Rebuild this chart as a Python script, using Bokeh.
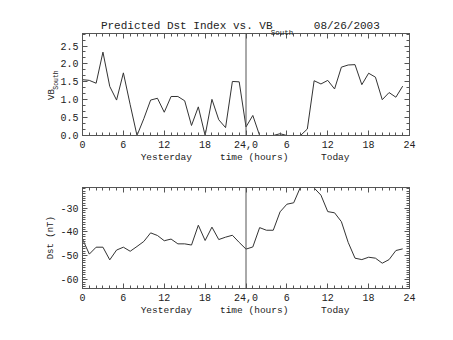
import math
from bokeh.plotting import figure
from bokeh.models import (Range1d, SingleIntervalTicker, FixedTicker, LinearAxis, Span,
                          PrintfTickFormatter, CustomJSTickFormatter)
from bokeh.layouts import column
from bokeh.embed import file_html
from bokeh.resources import INLINE

# ---------------- data ----------------
hours = list(range(48))
vb_south = [1.56, 1.54, 1.46, 2.33, 1.37, 0.99, 1.75, 0.86, 0.0, 0.47, 0.99, 1.04,
            0.65, 1.09, 1.09, 0.97, 0.28, 0.80, 0.0, 1.01, 0.44, 0.22, 1.51, 1.50,
            0.24, 0.56, 0.0, 0.0, 0.0, 0.05, 0.0, 0.0, 0.0, 0.18, 1.53, 1.44,
            1.54, 1.30, 1.91, 1.97, 1.98, 1.42, 1.74, 1.63, 1.00, 1.20, 1.07, 1.38]
dst = [-43.0, -49.3, -46.4, -46.4, -51.7, -47.6, -46.4, -48.1, -46.1, -44.0, -40.4, -41.5,
       -43.7, -43.0, -45.0, -45.0, -45.5, -37.2, -43.6, -38.0, -43.2, -42.2, -41.4, -44.4,
       -47.2, -46.3, -38.2, -39.3, -39.3, -31.6, -28.4, -27.8, -21.2, -19.0, -21.6, -24.6,
       -31.5, -32.0, -35.7, -44.4, -51.0, -51.6, -50.6, -51.0, -53.1, -51.6, -47.8, -47.1]
x_tick_labels = {0: "0", 6: "6", 12: "12", 18: "18", 24: "24,0",
                 30: "6", 36: "12", 42: "18", 48: "24"}
day_break = 24
title_main = ["Predicted Dst Index vs. VB", "08/26/2003"]
title_sub = ["South"]
ylabel_top_main = ["VB"]
ylabel_top_sub = ["South"]
ylabel_bottom = ["Dst (nT)"]
xlabels = ["Yesterday", "time (hours)", "Today"]

FONT = "Liberation Mono"
TXT = "#222222"
AX = "#555555"
LN = "#333333"


def style_axis(ax, labels=True, size="10px", standoff=5):
    ax.axis_line_color = AX
    ax.major_tick_line_color = AX
    ax.minor_tick_line_color = AX
    ax.major_tick_in = 5
    ax.major_tick_out = 0
    ax.minor_tick_in = 3
    ax.minor_tick_out = 0
    ax.major_label_text_font = FONT
    ax.major_label_text_font_size = size
    ax.major_label_text_color = TXT
    ax.major_label_standoff = standoff
    if not labels:
        ax.formatter = CustomJSTickFormatter(code="return ''")
        ax.major_label_text_font_size = "1px"
        ax.major_label_standoff = 0


def text_axis(p, loc, ticks, names, size, standoff, angle=None):
    ax = LinearAxis(ticker=FixedTicker(ticks=ticks),
                    formatter=CustomJSTickFormatter(args=dict(names=names),
                                                    code="return names[index]"))
    ax.axis_line_color = None
    ax.major_tick_line_color = None
    ax.minor_tick_line_color = None
    ax.major_tick_in = 0
    ax.major_tick_out = 0
    ax.major_label_text_font = FONT
    ax.major_label_text_font_size = size
    ax.major_label_text_color = TXT
    ax.major_label_standoff = standoff
    if angle is not None:
        ax.major_label_orientation = angle
    p.add_layout(ax, loc)
    return ax


def make_fig(height, btop, bbot, y0, y1, yint, yminor, yfmt):
    p = figure(width=453, height=height, x_range=Range1d(0, 48), y_range=Range1d(y0, y1),
               output_backend="svg", toolbar_location=None,
               x_axis_location=None, y_axis_location=None,
               min_border_left=82, min_border_right=44,
               min_border_top=btop, min_border_bottom=bbot)
    p.grid.visible = False
    p.outline_line_color = AX
    p.background_fill_color = "white"
    p.border_fill_color = "white"
    for loc in ["below", "above"]:
        ax = LinearAxis(ticker=SingleIntervalTicker(interval=6, num_minor_ticks=6))
        style_axis(ax, labels=(loc == "below"), standoff=5)
        if loc == "below":
            ax.major_label_overrides = x_tick_labels
        p.add_layout(ax, loc)
    for loc in ["left", "right"]:
        ax = LinearAxis(ticker=SingleIntervalTicker(interval=yint, num_minor_ticks=yminor))
        style_axis(ax, labels=(loc == "left"), standoff=4)
        if loc == "left":
            ax.formatter = PrintfTickFormatter(format=yfmt)
        p.add_layout(ax, loc)
    p.add_layout(Span(location=day_break, dimension="height", line_color=AX, line_width=1))
    text_axis(p, "below", [12.3, 25.2, 37.1], xlabels, "9.5px", 1)
    return p


p1 = make_fig(165, 33, 30, 0.0, 2.85, 0.5, 3, "%.1f")
p1.line(hours, vb_south, line_color=LN, line_width=1)
text_axis(p1, "above", [29.3], title_sub, "7.5px", -3)
text_axis(p1, "above", [15.3, 38.8], title_main, "11px", -6)
text_axis(p1, "left", [1.824], ylabel_top_sub, "6.5px", 1, angle=math.pi / 2)
text_axis(p1, "left", [1.295], ylabel_top_main, "9px", -6, angle=math.pi / 2)

p2 = make_fig(175, 22, 52, -63.7, -21.4, 10, 10, "%d")
p2.line(hours, dst, line_color=LN, line_width=1)
text_axis(p2, "left", [-33.4], ylabel_bottom, "9px", 6, angle=math.pi / 2)

layout = column(p1, p2)
open("out.html", "w").write(file_html(layout, INLINE))
